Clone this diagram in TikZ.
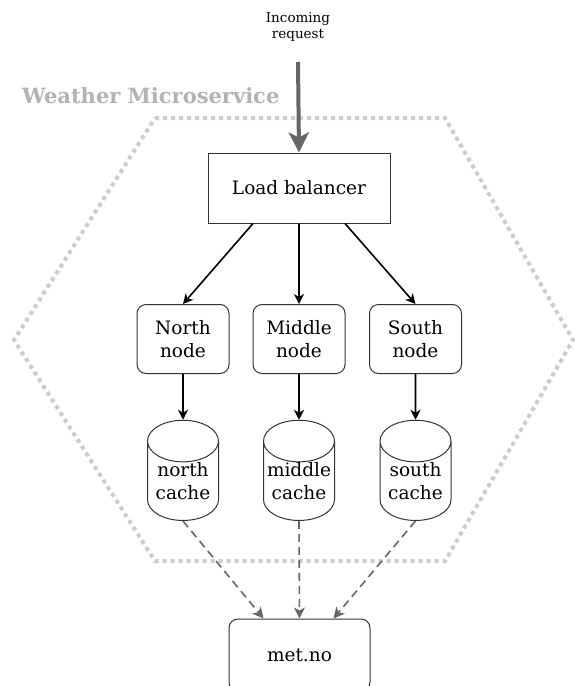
\documentclass[tikz,border=0pt]{standalone}
\usepackage{fontspec}
\setmainfont{DejaVu Serif}
\usetikzlibrary{arrows.meta,shapes.geometric}

\definecolor{darkgrey}{HTML}{666666}
\definecolor{lightgrey}{HTML}{CCCCCC}
\definecolor{titlegrey}{HTML}{B3B3B3}

\begin{document}
\begin{tikzpicture}[x=1pt, y=-1pt,
    box/.style={draw=black!80, line width=1pt, align=center, font=\fontsize{18.5}{23}\selectfont},
    service/.style={box, rounded corners=9pt, minimum width=92pt, minimum height=69pt},
    cache/.style={box, cylinder, shape border rotate=90, aspect=0.65, inner ysep=0pt, inner xsep=0pt, text width=64pt, minimum width=71pt, minimum height=92pt},
    call/.style={-{Stealth[length=10pt, width=10pt, inset=3pt]}, line width=1.6pt},
    fetch/.style={-{Stealth[length=11pt, width=11pt, inset=3pt]}, line width=1.6pt, darkgrey, dash pattern=on 8pt off 5pt}
]
\useasboundingbox (0, 0) rectangle (574, 686);

% Microservice boundary
\draw[lightgrey, line width=4pt, dash pattern=on 4pt off 4pt]
    (155, 118) -- (445, 118) -- (573, 340) -- (445, 561) -- (155, 561) -- (14, 340) -- cycle;
\node[titlegrey, font=\fontsize{21}{24}\selectfont\bfseries, anchor=west, inner sep=0pt] (title) at (22, 96) {Weather Microservice};

% Entry point
\node[font=\fontsize{13.5}{16}\selectfont, align=center] (req) at (298, 27) {Incoming\\request};
\coordinate (reqend) at (298, 62);

% Load balancer
\node[box, minimum width=182pt, minimum height=70pt] (lb) at (299, 188) {Load balancer};
\draw[-{Stealth[length=20pt, width=20pt, inset=5pt]}, line width=4pt, darkgrey] (reqend) -- (lb.north);

% Region nodes
\node[service] (north) at (183, 339) {North\\node};
\node[service] (middle) at (299, 339) {Middle\\node};
\node[service] (south) at (415.5, 339) {South\\node};

\draw[call] ([xshift=-46pt]lb.south) -- (north.north);
\draw[call] (lb.south) -- (middle.north);
\draw[call] ([xshift=46pt]lb.south) -- (south.north);

% Caches
\node[cache] (ncache) at (183, 481) {north\\cache};
\node[cache] (mcache) at (299, 481) {middle\\cache};
\node[cache] (scache) at (415.5, 481) {south\\cache};

\draw[call] (north.south) -- (ncache.north);
\draw[call] (middle.south) -- (mcache.north);
\draw[call] (south.south) -- (scache.north);

% External weather source
\node[box, rounded corners=9pt, minimum width=141pt, minimum height=72pt] (met) at (299.5, 655) {met.no};

\draw[fetch] (ncache.south) -- ([xshift=-36pt]met.north);
\draw[fetch] (mcache.south) -- (met.north);
\draw[fetch] (scache.south) -- ([xshift=34pt]met.north);

\end{tikzpicture}
\end{document}
